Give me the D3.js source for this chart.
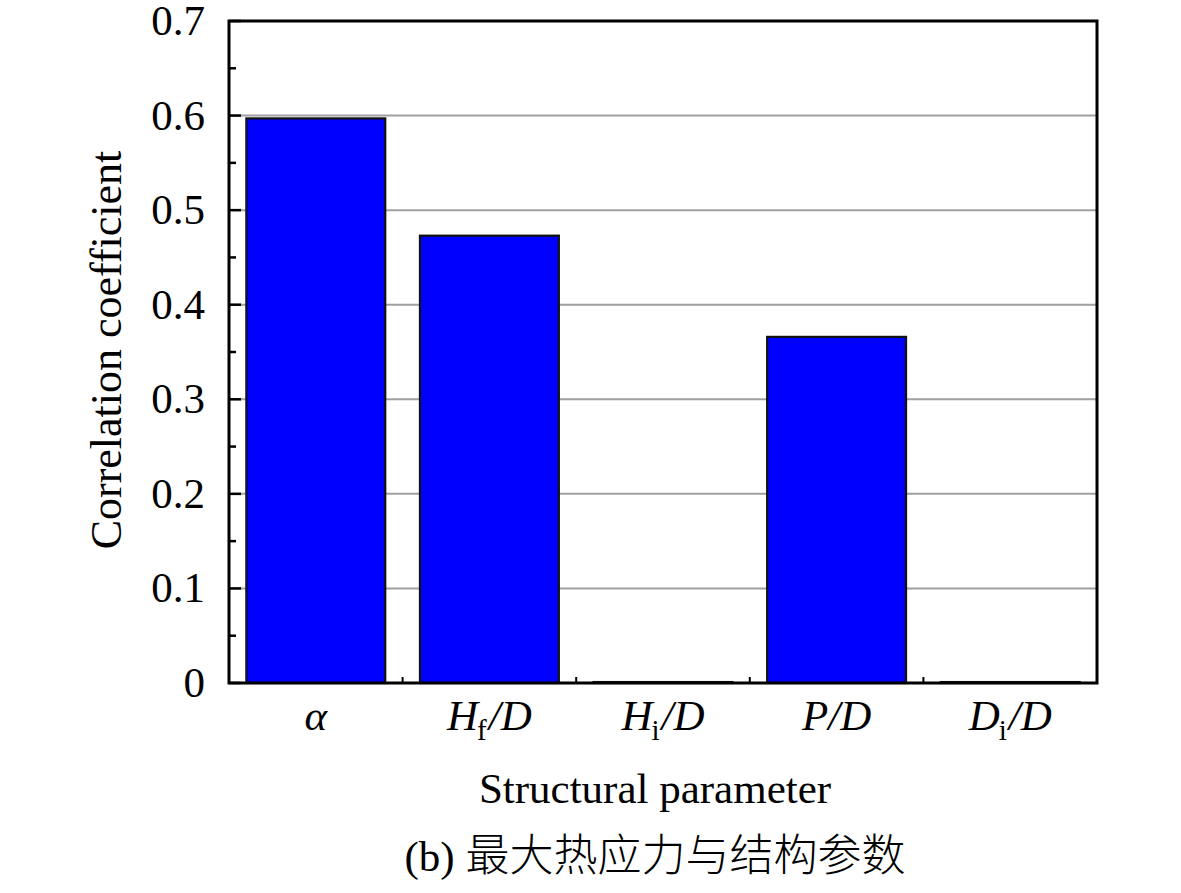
<!DOCTYPE html>
<html>
<head>
<meta charset="utf-8">
<script src="https://cdn.jsdelivr.net/npm/d3@7"></script>
<style>
  html, body { margin: 0; padding: 0; background: #fff; }
  svg { display: block; }
  .serif { font-family: "Liberation Serif", "Times New Roman", serif; }
</style>
</head>
<body>
<svg id="chart" width="1181" height="893"></svg>
<script>
// data
const params = ['alpha', 'Hf/D', 'Hi/D', 'P/D', 'Di/D'];
// label parts: [italic main, upright subscript, italic tail]
const labelParts = [
  ['α', '', ''],
  ['H', 'f', '/D'],
  ['H', 'i', '/D'],
  ['P', '', '/D'],
  ['D', 'i', '/D']
];
const corrValues = [0.597, 0.473, 0.001, 0.366, 0.001];
const yTicks = [0, 0.1, 0.2, 0.3, 0.4, 0.5, 0.6, 0.7];
const yMinorTicks = [0.05, 0.15, 0.25, 0.35, 0.45, 0.55, 0.65];

const svg = d3.select('#chart');
const pLeft = 229, pRight = 1097, pTop = 21, pBottom = 683;

const x = d3.scaleBand().domain(params).range([pLeft, pRight]).paddingInner(0.2).paddingOuter(0.1);
const y = d3.scaleLinear().domain([0, 0.7]).range([pBottom, pTop]);

// gridlines
svg.append('g').selectAll('line').data(yTicks.filter(t => t > 0 && t < 0.7)).join('line')
  .attr('x1', pLeft).attr('x2', pRight)
  .attr('y1', d => y(d)).attr('y2', d => y(d))
  .attr('stroke', '#a0a0a0').attr('stroke-width', 2);

// bars
svg.append('g').selectAll('rect').data(params).join('rect')
  .attr('x', d => x(d))
  .attr('width', x.bandwidth())
  .attr('y', (d, i) => y(corrValues[i]))
  .attr('height', (d, i) => y(0) - y(corrValues[i]))
  .attr('fill', '#0000ff')
  .attr('stroke', '#111')
  .attr('stroke-width', 2.2);

// y ticks (inward)
const ax = svg.append('g');
ax.selectAll('line.maj').data(yTicks).join('line').attr('class', 'maj')
  .attr('x1', pLeft).attr('x2', pLeft + 12)
  .attr('y1', d => y(d)).attr('y2', d => y(d))
  .attr('stroke', '#000').attr('stroke-width', 2.5);
ax.selectAll('line.min').data(yMinorTicks).join('line').attr('class', 'min')
  .attr('x1', pLeft).attr('x2', pLeft + 7)
  .attr('y1', d => y(d)).attr('y2', d => y(d))
  .attr('stroke', '#000').attr('stroke-width', 2.5);

// x ticks between categories
const step = x.step();
const xBoundaries = params.slice(1).map(p => x(p) - step * 0.1);
ax.selectAll('line.xt').data(xBoundaries).join('line').attr('class', 'xt')
  .attr('x1', d => d).attr('x2', d => d)
  .attr('y1', pBottom).attr('y2', pBottom - 6)
  .attr('stroke', '#000').attr('stroke-width', 2);

// frame
svg.append('rect')
  .attr('x', pLeft).attr('y', pTop)
  .attr('width', pRight - pLeft).attr('height', pBottom - pTop)
  .attr('fill', 'none').attr('stroke', '#000').attr('stroke-width', 3);

// y tick labels
svg.append('g').attr('class', 'serif').selectAll('text').data(yTicks).join('text')
  .attr('x', 205).attr('y', d => y(d) + 14)
  .attr('text-anchor', 'end')
  .style('font-size', '43px')
  .text(d => d === 0 ? '0' : d.toFixed(1));

// x tick labels
const xl = svg.append('g').attr('class', 'serif').selectAll('text').data(params).join('text')
  .attr('x', d => x(d) + x.bandwidth() / 2)
  .attr('y', 730)
  .attr('text-anchor', 'middle')
  .style('font-size', '43px');
xl.each(function(d, i) {
  const t = d3.select(this);
  const [main, sub, tail] = labelParts[i];
  t.append('tspan').style('font-style', 'italic').text(main);
  if (sub) t.append('tspan').attr('dx', -1).attr('dy', 10).style('font-size', '29px').text(sub);
  if (tail) t.append('tspan').attr('dx', sub ? 2 : 0).attr('dy', sub ? -10 : 0).style('font-style', 'italic').text(tail);
});

// axis titles
svg.append('text').attr('class', 'serif')
  .attr('transform', 'translate(121,350) rotate(-90)')
  .attr('text-anchor', 'middle')
  .style('font-size', '44px')
  .text('Correlation coefficient');

svg.append('text').attr('class', 'serif')
  .attr('x', 655).attr('y', 803)
  .attr('text-anchor', 'middle')
  .style('font-size', '43px')
  .text('Structural parameter');

// caption
const cap = svg.append('text')
  .attr('x', 655).attr('y', 871)
  .attr('text-anchor', 'middle')
  .style('font-size', '43px');
cap.append('tspan').attr('class', 'serif').text('(b) ');
cap.append('tspan')
  .style('font-family', '"Noto Sans CJK SC", sans-serif')
  .style('font-weight', 300)
  .style('font-size', '44px')
  .text('最大热应力与结构参数');
</script>
</body>
</html>
